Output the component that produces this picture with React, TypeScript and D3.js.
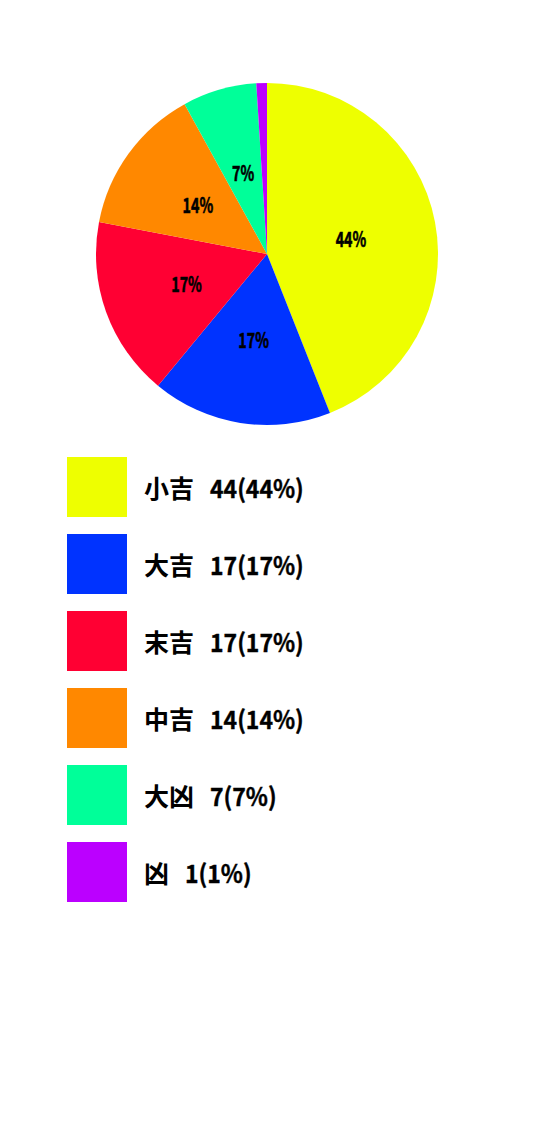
import { useEffect, useRef } from 'react'
import * as d3 from 'd3'

const labels = ['小吉', '大吉', '末吉', '中吉', '大凶', '凶']
const counts = [44, 17, 17, 14, 7, 1]
const colors = ['#eeff00', '#0033ff', '#ff0033', '#ff8800', '#00ff99', '#bb00ff']

const FONT = '"Noto Sans CJK JP", "Noto Sans", sans-serif'

export default function App() {
  const svgRef = useRef<SVGSVGElement>(null)

  useEffect(() => {
    if (!svgRef.current) return
    const svg = d3.select(svgRef.current)
    svg.selectAll('*').remove()

    const total = d3.sum(counts)
    const pct = (v: number) => Math.round((v / total) * 100)
    const cx = 267
    const cy = 254
    const radius = 171

    const pie = d3.pie<number>().sort(null).value(d => d)
    const arcs = pie(counts)
    const arc = d3.arc<d3.PieArcDatum<number>>().innerRadius(0).outerRadius(radius)

    const g = svg.append('g').attr('transform', `translate(${cx},${cy})`)

    g.selectAll('path')
      .data(arcs)
      .join('path')
      .attr('d', arc)
      .attr('fill', (_, i) => colors[i])

    // condensed heavy percentage labels
    g.selectAll('text')
      .data(arcs.filter(a => a.data / total >= 0.05))
      .join('text')
      .attr('transform', d => `translate(${arc.centroid(d)}) scale(0.68,1)`)
      .attr('text-anchor', 'middle')
      .attr('dominant-baseline', 'central')
      .attr('font-family', FONT)
      .attr('font-weight', 700)
      .attr('font-size', '21px')
      .attr('stroke', '#000')
      .attr('stroke-width', 0.6)
      .attr('fill', '#000')
      .text(d => `${pct(d.data)}%`)

    const legendY = d3.scaleBand<number>()
      .domain(d3.range(labels.length))
      .range([457, 902])
      .paddingInner(17 / 77)
      .paddingOuter(0)

    const rows = svg.append('g')
      .selectAll('g')
      .data(labels)
      .join('g')
      .attr('transform', (_, i) => `translate(67,${legendY(i)})`)

    rows.append('rect')
      .attr('width', legendY.bandwidth())
      .attr('height', legendY.bandwidth())
      .attr('fill', (_, i) => colors[i])

    rows.append('text')
      .attr('x', 77)
      .attr('y', 30)
      .attr('dominant-baseline', 'central')
      .attr('font-family', FONT)
      .attr('font-weight', 700)
      .attr('font-size', '25px')
      .attr('fill', '#000')
      .text(d => d)

    rows.append('text')
      .attr('transform', d => `translate(${77 + d.length * 25 + 16},30) scale(0.92,1)`)
      .attr('dominant-baseline', 'central')
      .attr('font-family', FONT)
      .attr('font-weight', 700)
      .attr('font-size', '25px')
      .attr('stroke', '#000')
      .attr('stroke-width', 0.4)
      .attr('fill', '#000')
      .text((_, i) => `${counts[i]}(${pct(counts[i])}%)`)
  }, [])

  return (
    <svg
      ref={svgRef}
      width={534}
      height={1136}
      style={{ position: 'absolute', left: 0, top: 0, display: 'block', background: '#fff' }}
    />
  )
}
